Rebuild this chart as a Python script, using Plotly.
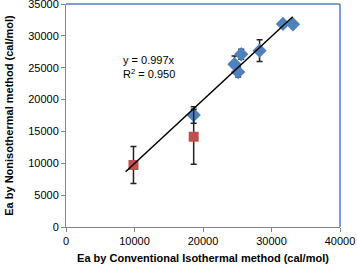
import plotly.graph_objects as go

# Blue series (diamonds)
blue_x = [31670, 33130, 28260, 25580, 24600, 25130, 18640]
blue_y = [31870, 31820, 27680, 27110, 25540, 24330, 17580]
blue_err = [0, 0, 1700, 800, 1300, 800, 1300]

# Red series (squares)
red_x = [9850, 18640]
red_y = [9730, 14170]
red_err = [2900, 4330]

# Trendline
slope = 0.997
trend_x = [8700, 33100]
trend_y = [slope * v for v in trend_x]

x_ticks = [0, 10000, 20000, 30000, 40000]
y_ticks = [0, 5000, 10000, 15000, 20000, 25000, 30000, 35000]

font = "Liberation Sans, Arial, sans-serif"

fig = go.Figure()
fig.add_trace(go.Scatter(
    x=blue_x, y=blue_y, mode="markers",
    marker=dict(symbol="diamond", size=11, color="#4F81BD"),
    error_y=dict(type="data", array=blue_err, color="#222222", thickness=1.5, width=3),
    showlegend=False, cliponaxis=False))
fig.add_trace(go.Scatter(
    x=red_x, y=red_y, mode="markers",
    marker=dict(symbol="square", size=10, color="#C0504D"),
    error_y=dict(type="data", array=red_err, color="#222222", thickness=1.5, width=3),
    showlegend=False))
fig.add_trace(go.Scatter(
    x=trend_x, y=trend_y, mode="lines",
    line=dict(color="black", width=1.5), showlegend=False))

fig.add_annotation(x=0.2, y=0.785, xref="paper", yref="paper", xanchor="left", yanchor="top",
                   showarrow=False, align="left",
                   text="y = 0.997x<br>R<sup>2</sup> = 0.950",
                   font=dict(family=font, size=11, color="black"))

# plot area blue border (top and right)
fig.add_shape(type="line", xref="paper", yref="paper", x0=0, x1=1, y0=1, y1=1,
              line=dict(color="#4F81BD", width=1.5))
fig.add_shape(type="line", xref="paper", yref="paper", x0=1, x1=1, y0=0, y1=1,
              line=dict(color="#4F81BD", width=1.5))

fig.update_layout(
    width=357, height=267,
    margin=dict(l=66, r=17, t=4, b=40, autoexpand=False),
    paper_bgcolor="white", plot_bgcolor="white",
    font=dict(family=font, size=11, color="black"),
    xaxis=dict(range=[0, 40000], tickvals=x_ticks, ticktext=[str(v) for v in x_ticks],
               showgrid=False, zeroline=False, showline=True, linecolor="#868686",
               linewidth=1, ticks="outside", ticklen=4, tickcolor="#868686",
               automargin=False, ticklabeloverflow="allow",
               title=dict(text="<b>Ea by Conventional Isothermal method (cal/mol)</b>",
                          font=dict(size=11), standoff=8)),
    yaxis=dict(range=[0, 35000], tickvals=y_ticks, ticktext=[str(v) for v in y_ticks],
               showgrid=False, zeroline=False, showline=True, linecolor="#868686",
               linewidth=1, ticks="outside", ticklen=4, tickcolor="#868686",
               automargin=False, ticklabeloverflow="allow",
               title=dict(text="<b>Ea by Nonisothermal method (cal/mol)</b>",
                          font=dict(size=11), standoff=12)),
)

fig.write_html("out.html", config={"displayModeBar": False},
               post_script="document.body.style.margin='0';")
